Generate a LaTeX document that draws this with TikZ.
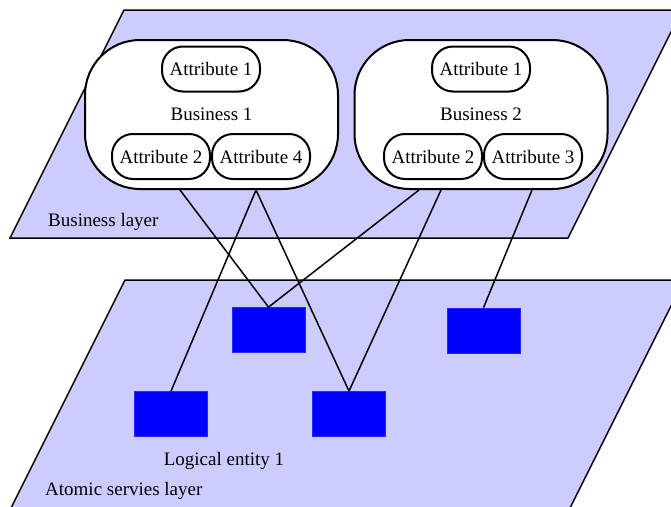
\documentclass[tikz,border=0pt]{standalone}
\usepackage{fontspec}
\setmainfont{Liberation Serif}
\definecolor{layerfill}{RGB}{204,204,255}
\tikzset{
  txt/.style={font=\fontsize{19}{23}\selectfont, inner sep=0pt},
  layer/.style={fill=layerfill, draw=black, line width=1.5pt},
  business/.style={txt, draw=black, fill=white, line width=2pt,
    rounded corners=55pt, minimum width=253pt, minimum height=149pt},
  attr/.style={txt, draw=black, fill=white, line width=2pt,
    rounded corners=21pt, minimum width=98pt, minimum height=45pt},
  entity/.style={fill=blue, draw=blue!85!white, line width=0.8pt,
    minimum width=73pt, minimum height=45pt, inner sep=0pt},
  link/.style={draw=black, line width=1.5pt}
}
\begin{document}
\begin{tikzpicture}[x=1pt,y=-1pt]
\useasboundingbox (0,0) rectangle (671,506);
\clip (0,0) rectangle (671,506);

% the two layer planes
\path[layer] (124,10) -- (682,10) -- (568,238) -- (10,238) -- cycle;
\path[layer] (125,280) -- (684,280) -- (564,520) -- (5,520) -- cycle;
\node[txt, anchor=base west] (bl) at (48,226.5) {Business layer};
\node[txt, anchor=base west] (al) at (45,495) {Atomic servies layer};

% businesses and their attributes
\node[business] (b1) at (211.5,114.5) {Business 1};
\node[business] (b2) at (481,114.5) {Business 2};
\node[attr] (b1a1) at (211,69) {Attribute 1};
\node[attr] (b1a2) at (161,156.5) {Attribute 2};
\node[attr] (b1a4) at (261,156.5) {Attribute 4};
\node[attr] (b2a1) at (481,69) {Attribute 1};
\node[attr] (b2a2) at (433,156.5) {Attribute 2};
\node[attr] (b2a3) at (533,156.5) {Attribute 3};

% logical entities
\node[entity] (e1) at (268.5,330) {};
\node[entity] (e2) at (483.5,330.5) {};
\node[entity] (e3) at (171,414) {};
\node[entity] (e4) at (349,414) {};
\node[txt, anchor=base] (el) at (224,465) {Logical entity 1};

% links between businesses and entities
\draw[link] ([xshift=-31.5pt]b1.south) -- (e1.north);
\draw[link] ([xshift=44.5pt]b1.south) -- (e3.north);
\draw[link] ([xshift=44.5pt]b1.south) -- (e4.north);
\draw[link] ([xshift=-62pt]b2.south) -- (e1.north);
\draw[link] ([xshift=-40pt]b2.south) -- (e4.north);
\draw[link] ([xshift=51pt]b2.south) -- (e2.north);
\end{tikzpicture}
\end{document}
